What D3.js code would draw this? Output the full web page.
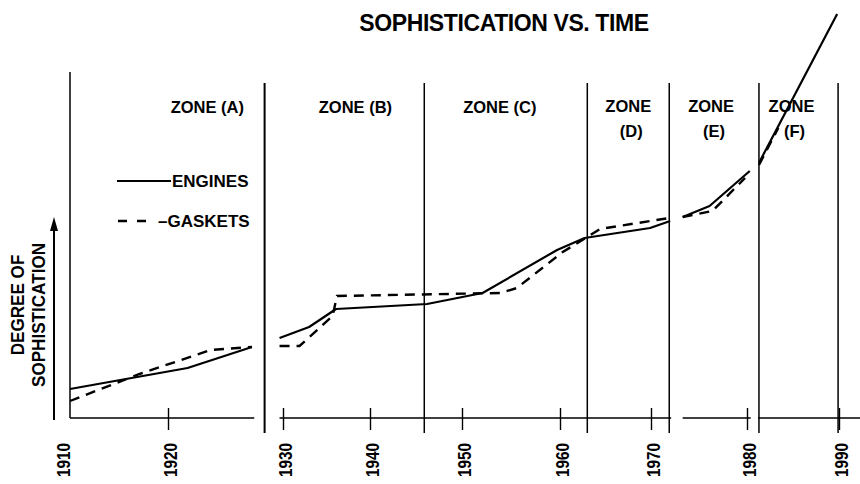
<!DOCTYPE html>
<html>
<head>
<meta charset="utf-8">
<script src="https://cdn.jsdelivr.net/npm/d3@7"></script>
<style>
  html, body { margin: 0; padding: 0; background: #fff; }
  svg { display: block; font-family: "Liberation Sans", Arial, Helvetica, sans-serif; font-weight: bold; }
</style>
</head>
<body>
<svg id="chart" width="860" height="484"></svg>
<script>
// ---- data ----
const tickYears = [1910, 1920, 1930, 1940, 1950, 1960, 1970, 1980, 1990];
const zoneNames = ["ZONE (A)", "ZONE (B)", "ZONE (C)", "ZONE (D)", "ZONE (E)", "ZONE (F)"];
const zoneEdges = [1910, 1928.4, 1945.9, 1963.0, 1971.9, 1981.3, 1989.9];
const panelSpans = [[1910, 1927.5], [1929.7, 1972.1], [1973.3, 1980.4], [1981.2, 1992.3]];
const seriesNames = ["ENGINES", "GASKETS"];

// null entries split the curve where the time axis is broken
const engineYears  = [1910, 1921.7, 1927.3, null, 1929.7, 1933.0, 1936.1, 1946.2, 1952.1, 1959.7, 1962.7, 1969.9, 1972.0, null, 1973.3, 1976.1, 1980.3, null, 1981.3, 1989.8];
const engineValues = [7.25, 12.5, 17.75, null, 20, 22.75, 27.25, 28.5, 31.25, 42, 45, 47.5, 49.25, null, 50.25, 53, 61.75, null, 63.75, 101];

const gasketYears  = [1910, 1917.1, 1923.7, 1927.3, null, 1929.7, 1931.9, 1935.7, 1936.2, 1953.9, 1955.6, 1960.3, 1963.0, 1964.4, 1971.9, null, 1973.3, 1976.4, 1979.8, null, 1981.3, 1983.4];
const gasketValues = [4.25, 11, 17, 17.75, null, 18, 18, 25.5, 30.5, 31.25, 32.5, 41.5, 45.25, 47.25, 50, null, 50.25, 51.75, 60, null, 63.25, 72.5];

// ---- layout ----
const svg = d3.select("#chart");
const baseY = 418;

// the time axis is hand-spaced, so the scale is piecewise through each decade
const x = d3.scaleLinear()
  .domain(tickYears)
  .range([70, 168, 283, 370, 462, 560, 651, 747, 839]);
const y = d3.scaleLinear().domain([0, 100]).range([baseY, 18]);

// title
svg.append("text")
  .attr("x", 504).attr("y", 31)
  .attr("text-anchor", "middle")
  .attr("font-size", 23)
  .attr("letter-spacing", -0.4)
  .text("SOPHISTICATION VS. TIME");

// broken baseline, one piece per panel
svg.append("g").selectAll("line")
  .data(panelSpans)
  .join("line")
  .attr("x1", d => x(d[0])).attr("x2", d => x(d[1]))
  .attr("y1", baseY).attr("y2", baseY)
  .attr("stroke", "#000").attr("stroke-width", 1.5);

// decade ticks crossing the baseline, labels turned on end
const axis = d3.axisBottom(x)
  .tickValues(tickYears)
  .tickFormat(d3.format("d"))
  .tickSizeInner(12)
  .tickSizeOuter(0);
const axisG = svg.append("g")
  .attr("transform", `translate(0,${baseY})`)
  .call(axis);
axisG.select(".domain").remove();
axisG.selectAll(".tick line")
  .attr("y1", d => d === 1910 ? 0 : -10)
  .attr("y2", d => d === 1910 ? 0 : 12)
  .attr("stroke", "#000").attr("stroke-width", 1.4);
axisG.selectAll(".tick text")
  .attr("font-size", 18)
  .attr("font-family", "\"Liberation Sans\", Arial, sans-serif")
  .attr("font-weight", "bold")
  .attr("fill", "#000")
  .attr("text-anchor", "end")
  .attr("dy", "0.35em")
  .attr("y", 0)
  .attr("transform", d => `translate(${d === 1910 ? -7 : 2},25) rotate(-90) scale(0.85,1)`);

// zone boundaries (the first one doubles as the value axis)
svg.append("g").selectAll("line")
  .data(zoneEdges)
  .join("line")
  .attr("x1", d => x(d)).attr("x2", d => x(d))
  .attr("y1", (d, i) => i === 0 ? 72 : 83)
  .attr("y2", (d, i) => i === 0 ? baseY : 433)
  .attr("stroke", "#000")
  .attr("stroke-width", (d, i) => i === 1 ? 2 : 1.5);

// zone captions; the narrow zones wrap onto two lines
const labelShift = [40, 11, -6, 0, -3, -7];
const zoneG = svg.append("g").attr("font-size", 16.5);
zoneNames.forEach((name, i) => {
  const cx = (x(zoneEdges[i]) + x(zoneEdges[i + 1])) / 2 + labelShift[i];
  const narrow = x(zoneEdges[i + 1]) - x(zoneEdges[i]) < 100;
  const t = zoneG.append("text").attr("text-anchor", "middle").attr("x", cx);
  if (narrow) {
    const parts = name.split(" ");
    t.append("tspan").attr("x", cx).attr("y", 112).text(parts[0]);
    t.append("tspan").attr("x", cx + 3).attr("y", 137).text(parts[1]);
  } else {
    t.attr("y", 113).text(name);
  }
});

// value-axis caption with upward arrow
svg.append("line")
  .attr("x1", 54).attr("x2", 54)
  .attr("y1", 420).attr("y2", 228)
  .attr("stroke", "#000").attr("stroke-width", 2);
svg.append("path")
  .attr("d", "M54,217 L50,231 L58,231 Z")
  .attr("fill", "#000");
svg.append("text")
  .attr("transform", "translate(18,305) rotate(-90) scale(0.95,1)")
  .attr("text-anchor", "middle").attr("dy", "0.35em")
  .attr("font-size", 18)
  .text("DEGREE OF");
svg.append("text")
  .attr("transform", "translate(38.5,315) rotate(-90) scale(0.95,1)")
  .attr("text-anchor", "middle").attr("dy", "0.35em")
  .attr("font-size", 18)
  .text("SOPHISTICATION");

// curves
const zip = (ys, vs) => ys.map((yr, i) => ({ year: yr, value: vs[i] }));
const line = d3.line()
  .defined(d => d.year !== null && d.value !== null)
  .x(d => x(d.year))
  .y(d => y(d.value));

svg.append("path")
  .datum(zip(engineYears, engineValues))
  .attr("d", line)
  .attr("fill", "none")
  .attr("stroke", "#000")
  .attr("stroke-width", 2.2)
  .attr("stroke-linejoin", "round");

svg.append("path")
  .datum(zip(gasketYears, gasketValues))
  .attr("d", line)
  .attr("fill", "none")
  .attr("stroke", "#000")
  .attr("stroke-width", 2.4)
  .attr("stroke-dasharray", "10,7");

// legend
const legend = svg.append("g").attr("font-size", 17);
legend.append("line")
  .attr("x1", 117).attr("x2", 171).attr("y1", 181).attr("y2", 181)
  .attr("stroke", "#000").attr("stroke-width", 2.2);
legend.append("text").attr("x", 172).attr("y", 187).text(seriesNames[0]);
legend.append("line")
  .attr("x1", 118).attr("x2", 147).attr("y1", 221).attr("y2", 221)
  .attr("stroke", "#000").attr("stroke-width", 2.4)
  .attr("stroke-dasharray", "9,10");
legend.append("text").attr("x", 158).attr("y", 227).text("\u2013" + seriesNames[1]);
</script>
</body>
</html>
